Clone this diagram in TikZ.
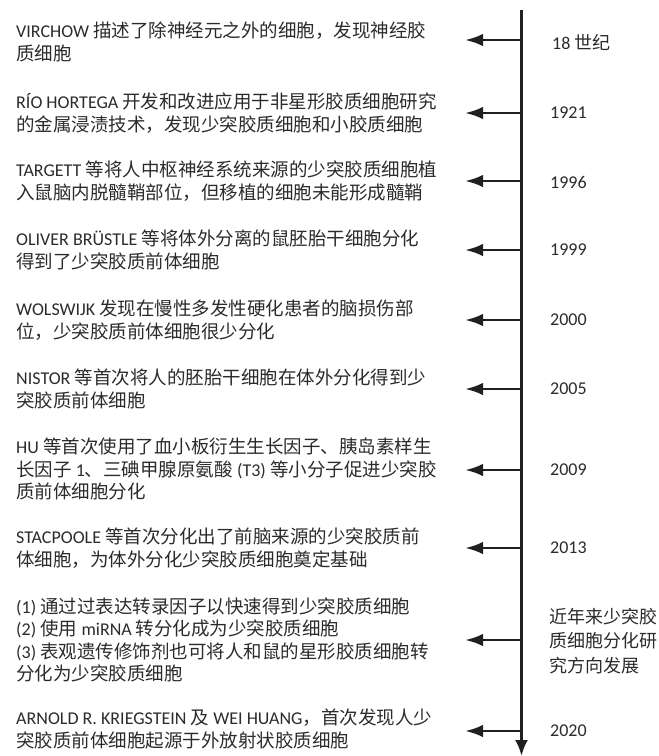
\documentclass[tikz,border=0pt]{standalone}
\usepackage{fontspec}
\setmainfont{Noto Sans CJK SC}
\newfontfamily\lat{Carlito}[Scale=0.973]
\newfontfamily\yrlat{Carlito}
\usetikzlibrary{arrows.meta}
\definecolor{ink}{HTML}{231F20}
\definecolor{txt}{HTML}{2B2B2B}
\tikzset{
  evtext/.style={anchor=west, align=left, inner sep=0pt, text=txt,
    font=\fontsize{18.5}{22.6}\selectfont},
  yrtext/.style={anchor=west, align=left, inner sep=0pt, text=txt,
    font=\fontsize{18}{24.5}\selectfont},
  axisline/.style={draw=ink, line width=2.8pt, -{Latex[length=16pt,width=13pt]}},
  ptr/.style={draw=ink, line width=2.8pt, -{Latex[length=18pt,width=12.5pt]}}
}
\begin{document}
\begin{tikzpicture}[x=1pt,y=-1pt]
\useasboundingbox (0,0) rectangle (659,756);
% axis
\coordinate (top) at (521.5,10);
\coordinate (bot) at (521.5,756);
\draw[axisline] (top) -- (bot);

% event texts
\node[evtext] (e1) at (16,42) {{\lat VIRCHOW} 描述了除神经元之外的细胞，发现神经胶\\质细胞};
\node[evtext] (e2) at (16,113) {{\lat RÍO HORTEGA} 开发和改进应用于非星形胶质细胞研究\\的金属浸渍技术，发现少突胶质细胞和小胶质细胞};
\node[evtext] (e3) at (16,181) {{\lat TARGETT} 等将人中枢神经系统来源的少突胶质细胞植\\入鼠脑内脱髓鞘部位，但移植的细胞未能形成髓鞘};
\node[evtext] (e4) at (16,250) {{\lat OLIVER BRÜSTLE} 等将体外分离的鼠胚胎干细胞分化\\得到了少突胶质前体细胞};
\node[evtext] (e5) at (16,320) {{\lat WOLSWIJK} 发现在慢性多发性硬化患者的脑损伤部\\位，少突胶质前体细胞很少分化};
\node[evtext] (e6) at (16,389) {{\lat NISTOR} 等首次将人的胚胎干细胞在体外分化得到少\\突胶质前体细胞};
\node[evtext] (e7) at (16,469) {{\lat HU} 等首次使用了血小板衍生生长因子、胰岛素样生\\长因子 {\lat 1}、三碘甲腺原氨酸 {\lat (T3)} 等小分子促进少突胶\\质前体细胞分化};
\node[evtext] (e8) at (16,548) {{\lat STACPOOLE} 等首次分化出了前脑来源的少突胶质前\\体细胞，为体外分化少突胶质细胞奠定基础};
\node[evtext] (e9) at (16,640) {{\lat (1)} 通过过表达转录因子以快速得到少突胶质细胞\\{\lat (2)} 使用 {\lat miRNA} 转分化成为少突胶质细胞\\{\lat (3)} 表观遗传修饰剂也可将人和鼠的星形胶质细胞转\\分化为少突胶质细胞};
\node[evtext] (e10) at (16,729) {{\lat ARNOLD R. KRIEGSTEIN} 及 {\lat WEI HUANG}，首次发现人少\\突胶质前体细胞起源于外放射状胶质细胞};

% year texts
\node[yrtext] (y1) at (552,42) {{\yrlat 18} 世纪};
\node[yrtext] (y2) at (550,113) {\yrlat 1921};
\node[yrtext] (y3) at (550,182) {\yrlat 1996};
\node[yrtext] (y4) at (550,250) {\yrlat 1999};
\node[yrtext] (y5) at (550,320) {\yrlat 2000};
\node[yrtext] (y6) at (550,389) {\yrlat 2005};
\node[yrtext] (y7) at (550,470) {\yrlat 2009};
\node[yrtext] (y8) at (550,548) {\yrlat 2013};
\node[yrtext] (y9) at (549,641) {近年来少突胶\\质细胞分化研\\究方向发展};
\node[yrtext] (y10) at (550,731) {\yrlat 2020};

% pointers
\foreach \i/\yy in {1/40,2/113,3/181,4/250,5/320,6/389,7/470,8/548,9/640,10/731}{
  \coordinate (a\i) at (522,\yy);
  \coordinate (t\i) at (465,\yy);
  \draw[ptr] (a\i) -- (t\i);
}
\end{tikzpicture}
\end{document}
